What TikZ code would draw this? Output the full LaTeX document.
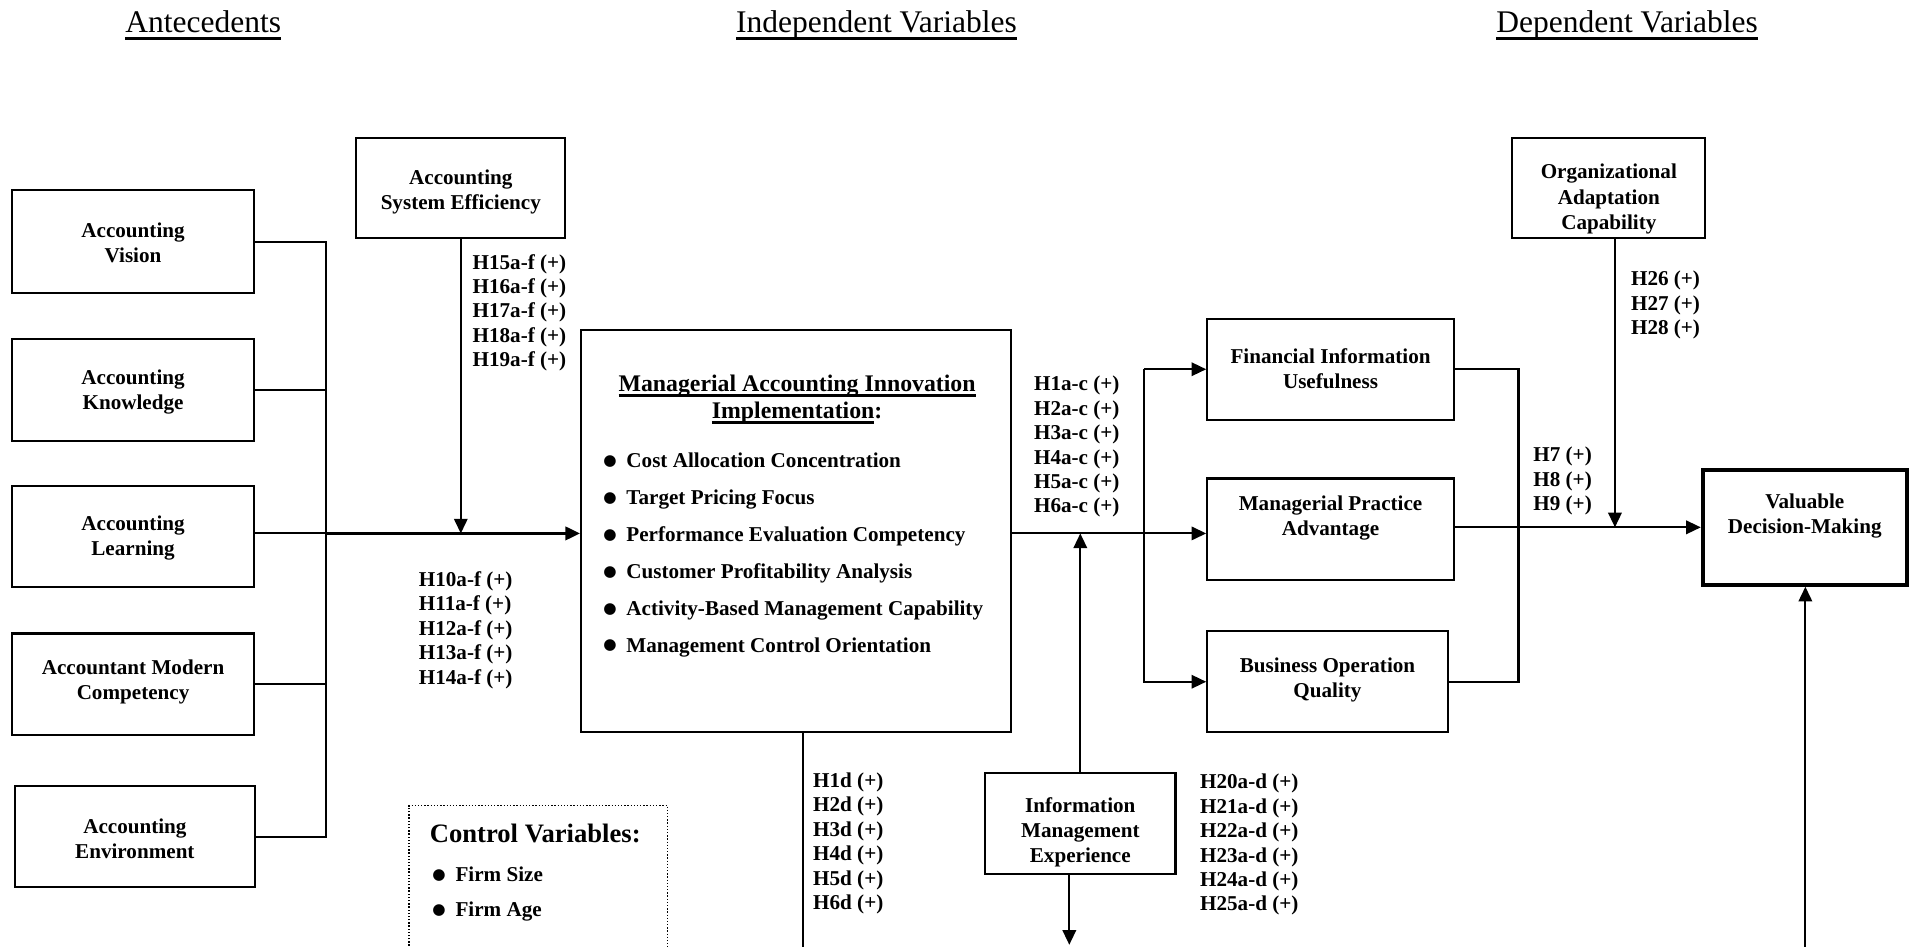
\documentclass[tikz,border=0pt]{standalone}
\usepackage{fontspec}
\setmainfont{Liberation Serif}
\newfontfamily\symfont{DejaVu Sans}
\usetikzlibrary{arrows.meta}
\newsavebox\ulbox
\newcommand{\ulx}[3]{\sbox\ulbox{#3}\rlap{\rule[#1]{\wd\ulbox}{#2}}\usebox\ulbox}
\newcommand{\bul}{\makebox[19pt][l]{\raisebox{1.8pt}{\symfont\fontsize{12.5}{14}\selectfont ●}}}
\begin{document}
\begin{tikzpicture}[x=1pt,y=-1pt,
  box/.style={draw, line width=1.7pt, inner sep=0pt},
  txt/.style={font=\fontsize{17.3}{20.5}\selectfont\bfseries, align=center, inner sep=0pt},
  hyp/.style={font=\fontsize{17.3}{20}\selectfont\bfseries, align=left, anchor=north west, inner sep=0pt},
  conn/.style={line width=1.7pt},
  arr/.style={conn, -{Triangle[length=12pt,width=11pt]}},
  head/.style={font=\fontsize{25.8}{30}\selectfont, inner sep=0pt, anchor=base}]
\fill[white] (0,0) rectangle (1568,775);
\useasboundingbox (0,0) rectangle (1568,775);

% headings
\node[head] (hant) at (166.5,26.5) {\ulx{-6pt}{2.4pt}{Antecedents}};
\node[head] (hind) at (718,26.5) {\ulx{-6pt}{2.4pt}{Independent Variables}};
\node[head] (hdep) at (1333,26.5) {\ulx{-6pt}{2.4pt}{Dependent Variables}};

% antecedent boxes
\node[box, minimum width=198pt, minimum height=84pt] (vision) at (109,198) {};
\node[txt] (visiont) at (109,199) {Accounting\\Vision};
\node[box, minimum width=198pt, minimum height=83pt] (knowledge) at (109,319.5) {};
\node[txt] (knowledget) at (109,321) {Accounting\\Knowledge};
\node[box, minimum width=198pt, minimum height=83pt] (learning) at (109,439.5) {};
\node[txt] (learningt) at (109,441) {Accounting\\Learning};
\node[box, minimum width=198pt, minimum height=83pt] (modern) at (109,560.5) {};
\node[txt] (modernt) at (109,559) {Accountant Modern\\Competency};
\node[box, minimum width=197pt, minimum height=83pt] (environment) at (110.5,685.5) {};
\node[txt] (environmentt) at (110.5,687) {Accounting\\Environment};

% moderator top
\node[box, minimum width=171pt, minimum height=82pt] (ase) at (377.5,154) {};
\node[txt] (aset) at (377.5,157.5) {Accounting\\System Efficiency};

% main box
\node[box, minimum width=352pt, minimum height=330pt] (mai) at (652,435) {};
\node[font=\fontsize{19.5}{22}\selectfont\bfseries, anchor=base, inner sep=0pt] (title1) at (653,321) {\ulx{-4pt}{2pt}{Managerial Accounting Innovation}};
\node[font=\fontsize{19.5}{22}\selectfont\bfseries, anchor=base, inner sep=0pt] (title2) at (653,343) {\ulx{-4pt}{2pt}{Implementation}:};
\node[font=\fontsize{17.3}{30.2}\selectfont\bfseries, align=left, anchor=north west, inner sep=0pt] (mailist) at (494,371)
 {\bul Cost Allocation Concentration\\ \bul Target Pricing Focus\\ \bul Performance Evaluation Competency\\ \bul Customer Profitability Analysis\\ \bul Activity-Based Management Capability\\ \bul Management Control Orientation};

% control variables
\draw[line width=1.1pt, dash pattern=on 1.1pt off 1.5pt] (335,780) -- (335,660) -- (547,660) -- (547,780);
\node[font=\fontsize{21.8}{26}\selectfont\bfseries, anchor=base west, inner sep=0pt] (ctitle) at (352,690) {Control Variables:};
\node[font=\fontsize{17.3}{29}\selectfont\bfseries, align=left, anchor=north west, inner sep=0pt] (clist) at (354,710) {\bul Firm Size\\ \bul Firm Age};

% dependent side
\node[box, minimum width=202pt, minimum height=83pt] (fin) at (1090,302.5) {};
\node[txt] (fint) at (1090,302) {Financial Information\\Usefulness};
\node[box, minimum width=202pt, minimum height=83pt] (mpa) at (1090,433.5) {};
\node[txt] (mpat) at (1090,424) {Managerial Practice\\Advantage};
\node[box, minimum width=197pt, minimum height=83pt] (boq) at (1087.5,558.5) {};
\node[txt] (boqt) at (1087.5,557) {Business Operation\\Quality};
\node[box, minimum width=158pt, minimum height=82pt] (org) at (1318,154) {};
\node[txt] (orgt) at (1318,163) {Organizational\\Adaptation\\Capability};
\node[box, line width=3.3pt, minimum width=167pt, minimum height=94pt] (vdm) at (1478.5,432) {};
\node[txt] (vdmt) at (1478.5,422.5) {Valuable\\Decision-Making};
\node[box, minimum width=156pt, minimum height=83pt] (ime) at (885,674.5) {};
\node[txt] (imet) at (885,681.5) {Information\\Management\\Experience};

% hypothesis labels
\node[hyp] (h15) at (387,208) {H15a-f (+)\\H16a-f (+)\\H17a-f (+)\\H18a-f (+)\\H19a-f (+)};
\node[hyp] (h10) at (343,468) {H10a-f (+)\\H11a-f (+)\\H12a-f (+)\\H13a-f (+)\\H14a-f (+)};
\node[hyp] (h1) at (847,308) {H1a-c (+)\\H2a-c (+)\\H3a-c (+)\\H4a-c (+)\\H5a-c (+)\\H6a-c (+)};
\node[hyp] (h1d) at (666,633) {H1d (+)\\H2d (+)\\H3d (+)\\H4d (+)\\H5d (+)\\H6d (+)};
\node[hyp] (h20) at (983,634) {H20a-d (+)\\H21a-d (+)\\H22a-d (+)\\H23a-d (+)\\H24a-d (+)\\H25a-d (+)};
\node[hyp] (h26) at (1336,222) {H26 (+)\\H27 (+)\\H28 (+)};
\node[hyp] (h7) at (1256,366) {H7 (+)\\H8 (+)\\H9 (+)};

% coordinates
\coordinate (bus) at (267,198);
\coordinate (midline) at (0,437);
\coordinate (br) at (937,437);
\coordinate (rbus) at (1244,0);
\coordinate (maiout) at (658,780);
\coordinate (imeout) at (876,774);
\coordinate (vdmin) at (1479,780);

% antecedent connectors
\draw[conn] (vision.east) -- (bus) -- (bus |- environment.east) -- (environment.east);
\draw[conn] (knowledge.east) -- (knowledge.east -| bus);
\draw[conn] (modern.east) -- (modern.east -| bus);
\draw[conn] (learning.east |- midline) -- (bus |- midline);
\draw[arr, line width=2.2pt] (bus |- midline) -- (mai.west |- midline);
\draw[arr] (ase.south) -- (ase.south |- midline);

% main to dependents
\draw[conn] (mai.east |- midline) -- (br);
\draw[arr] (br) -- (mpa.west |- midline);
\draw[arr] (br |- fin.west) -- (fin.west);
\draw[arr] (br |- fin.west) -- (br |- boq.west) -- (boq.west);
\draw[arr] (ime.north) -- (ime.north |- midline);
\draw[arr] (imeout |- ime.south) -- (imeout);
\draw[conn] (maiout |- mai.south) -- (maiout);

% dependents to outcome
\draw[conn] (fin.east) -- (fin.east -| rbus) -- (boq.east -| rbus) -- (boq.east);
\draw[arr] (mpa.east |- vdm.west) -- (vdm.west);
\draw[arr] ([xshift=5pt]org.south) -- ([xshift=5pt]org.south |- vdm.west);
\draw[arr] (vdmin) -- (vdmin |- vdm.south);
\end{tikzpicture}
\end{document}
